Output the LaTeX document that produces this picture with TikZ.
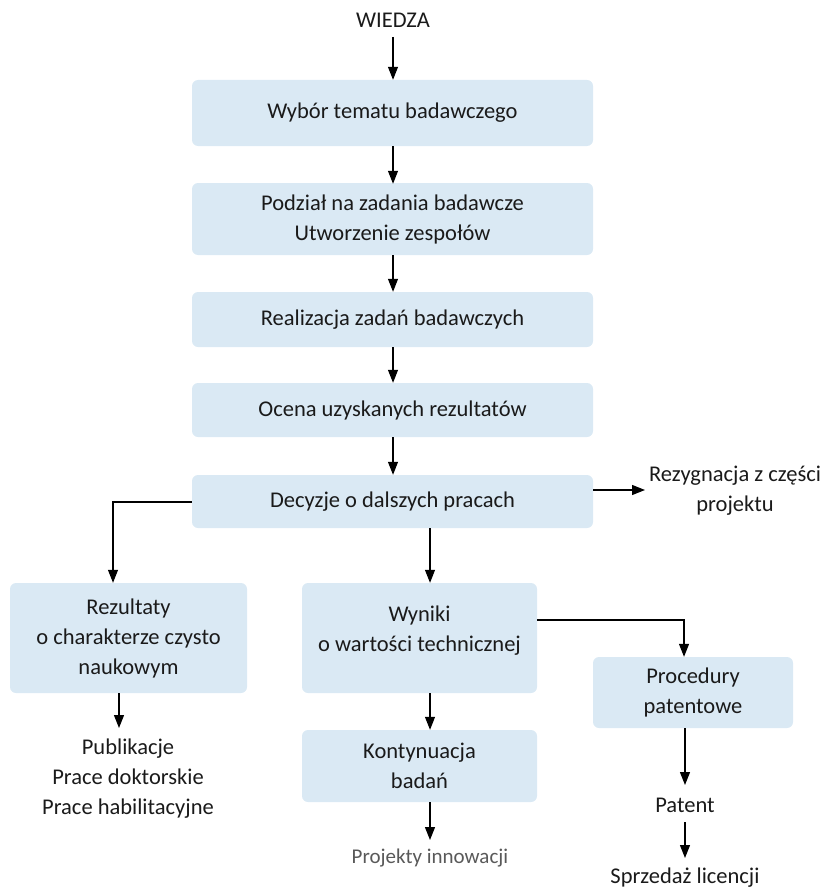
\documentclass[tikz,border=0pt]{standalone}
\usepackage{fontspec}
\setmainfont{Carlito}
\usetikzlibrary{arrows.meta}
\definecolor{boxfill}{HTML}{DAE9F4}
\definecolor{ink}{HTML}{1A1A1A}
\tikzset{
  stepbox/.style={fill=boxfill, rounded corners=6pt, align=center, inner sep=0pt,
    text=ink, font=\fontsize{22.5}{30}\selectfont},
  plain/.style={align=center, inner sep=0pt, text=ink, font=\fontsize{22.5}{30}\selectfont},
  link/.style={line width=1.2pt, draw=black, -{Triangle[length=13pt,width=10pt]}},
  edge/.style={line width=1.2pt, draw=black}
}
\begin{document}
\begin{tikzpicture}[x=1pt,y=-1pt]
\useasboundingbox (0,0) rectangle (821,888);

% main column
\node[plain] (wiedza) at (393,20) {WIEDZA};
\node[stepbox, minimum width=401pt, minimum height=66pt] (wybor) at (392.5,113) {Wybór tematu badawczego};
\node[stepbox, minimum width=401pt, minimum height=72pt] (podzial) at (392.5,219) {Podział na zadania badawcze\\Utworzenie zespołów};
\node[stepbox, minimum width=401pt, minimum height=55pt] (realiz) at (392.5,319.5) {Realizacja zadań badawczych};
\node[stepbox, minimum width=401pt, minimum height=54pt] (ocena) at (392.5,410) {Ocena uzyskanych rezultatów};
\node[stepbox, minimum width=401pt, minimum height=53pt] (decyzje) at (392.5,501.5) {Decyzje o dalszych pracach};
\node[plain] (rezyg) at (735,491) {Rezygnacja z części\\projektu};

% left branch
\node[stepbox, minimum width=237pt, minimum height=110pt] (rezult) at (128.5,638) {Rezultaty\\o charakterze czysto\\naukowym};
\node[plain] (publ) at (128,779) {Publikacje\\Prace doktorskie\\Prace habilitacyjne};

% middle branch
\node[stepbox, minimum width=235pt, minimum height=110pt] (wyniki) at (419.5,638) {};
\node[plain] at (419.5,631) {Wyniki\\o wartości technicznej};
\node[stepbox, minimum width=235pt, minimum height=72pt] (kontyn) at (419.5,766) {Kontynuacja\\badań};
\node[plain, font=\fontsize{21}{24}\selectfont, text=black!65] (projekty) at (430,858) {Projekty innowacji};

% right branch
\node[stepbox, minimum width=200pt, minimum height=71pt] (proced) at (693,692.5) {Procedury\\patentowe};
\node[plain] (patent) at (685,805) {Patent};
\node[plain] (sprzedaz) at (685,878) {Sprzedaż licencji};

% connectors
\draw[link] (393,37) -- (wybor.north -| 393,0);
\draw[link] (wybor.south -| 393,0) -- ([yshift=-1pt]podzial.north -| 393,0);
\draw[link] (podzial.south -| 393,0) -- (realiz.north -| 393,0);
\draw[link] (realiz.south -| 393,0) -- (ocena.north -| 393,0);
\draw[link] (ocena.south -| 393,0) -- (decyzje.north -| 393,0);
\draw[link] (decyzje.east |- 0,490) -- (645,490);
\draw[link] (decyzje.west |- 0,502) -| (rezult.north -| 113,0);
\draw[link] (decyzje.south -| 430,0) -- (wyniki.north -| 430,0);
\draw[link] (rezult.south -| 119,0) -- (119,728);
\draw[link] (wyniki.east |- 0,620) -| (proced.north -| 684,0);
\draw[link] (wyniki.south -| 430,0) -- (kontyn.north -| 430,0);
\draw[link] (kontyn.south -| 430,0) -- (430,840);
\draw[link] (proced.south -| 685,0) -- (685,785);
\draw[link] (685,822) -- (685,858);
\end{tikzpicture}
\end{document}
